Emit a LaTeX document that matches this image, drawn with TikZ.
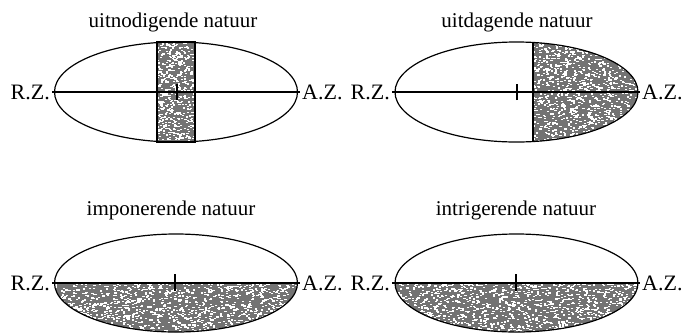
\documentclass[tikz,border=0pt]{standalone}
\usepackage{fontspec}
\setmainfont{Liberation Serif}
\newcommand{\mySpeckle}[5]{% x0 y0 w h n
  \foreach \i in {1,...,#5}{%
    \pgfmathsetmacro{\px}{#1+rnd*#3}%
    \pgfmathsetmacro{\py}{#2+rnd*#4}%
    \fill[white] (\px,\py) rectangle ++(2.2,1.3);
  }}
\begin{document}
\begin{tikzpicture}[x=1pt,y=-1pt,
  outline/.style={line width=1.2pt},
  shade/.style={fill=black!55},
  lbl/.style={font=\fontsize{22}{24}\selectfont, inner sep=2pt},
  ttl/.style={font=\fontsize{21}{23}\selectfont, inner sep=0pt},
  tick/.style={line width=1.2pt}]
\pgfmathsetseed{7}
\useasboundingbox (0,0) rectangle (685,333);

% ---------- top left: uitnodigende natuur ----------
\node[ttl] (t1) at (173,22) {uitnodigende natuur};
\begin{scope}
  \clip (157,42) rectangle (195,142);
  \fill[shade] (157,42) rectangle (195,142);
  \mySpeckle{155}{40}{40}{102}{520}
\end{scope}
\draw[outline] (157,42) rectangle (195,142);
\draw[outline] (176,92) ellipse [x radius=121.5, y radius=50];
\node[lbl, anchor=east] (rz1) at (52,92) {R.Z.};
\node[lbl, anchor=west] (az1) at (300,92) {A.Z.};
\draw[outline] (rz1.east) -- (az1.west);
\coordinate (c1) at (177,92);
\draw[tick] ([yshift=-8pt]c1) -- ([yshift=8pt]c1);

% ---------- top right: uitdagende natuur ----------
\node[ttl] (t2) at (517,22) {uitdagende natuur};
\begin{scope}
  \clip (516.5,92) ellipse [x radius=121.5, y radius=50];
  \clip (533,30) rectangle (650,150);
  \fill[shade] (533,30) rectangle (650,150);
  \mySpeckle{531}{40}{108}{104}{1200}
\end{scope}
\draw[outline] (516.5,92) ellipse [x radius=121.5, y radius=50];
\draw[outline] (533,42.5) -- (533,141.5);
\node[lbl, anchor=east] (rz2) at (392,92) {R.Z.};
\node[lbl, anchor=west] (az2) at (640,92) {A.Z.};
\draw[outline] (rz2.east) -- (az2.west);
\coordinate (c2) at (517,92);
\draw[tick] ([yshift=-8pt]c2) -- ([yshift=8pt]c2);

% ---------- bottom left: imponerende natuur ----------
\node[ttl] (t3) at (171,210) {imponerende natuur};
\begin{scope}
  \clip (176,283) ellipse [x radius=121.5, y radius=49];
  \clip (50,283) rectangle (300,340);
  \fill[shade] (50,283) rectangle (300,340);
  \mySpeckle{53}{282}{246}{52}{1300}
\end{scope}
\draw[outline] (176,283) ellipse [x radius=121.5, y radius=49];
\node[lbl, anchor=east] (rz3) at (52,283) {R.Z.};
\node[lbl, anchor=west] (az3) at (300,283) {A.Z.};
\draw[outline] (rz3.east) -- (az3.west);
\coordinate (c3) at (175,283);
\draw[tick] ([yshift=-8pt]c3) -- ([yshift=9pt]c3);

% ---------- bottom right: intrigerende natuur ----------
\node[ttl] (t4) at (516,210) {intrigerende natuur};
\begin{scope}
  \clip (516.5,283) ellipse [x radius=121.5, y radius=49];
  \clip (390,283) rectangle (640,340);
  \fill[shade] (390,283) rectangle (640,340);
  \mySpeckle{393}{282}{246}{52}{1300}
\end{scope}
\draw[outline] (516.5,283) ellipse [x radius=121.5, y radius=49];
\node[lbl, anchor=east] (rz4) at (392,283) {R.Z.};
\node[lbl, anchor=west] (az4) at (640,283) {A.Z.};
\draw[outline] (rz4.east) -- (az4.west);
\coordinate (c4) at (516,283);
\draw[tick] ([yshift=-8pt]c4) -- ([yshift=9pt]c4);
\end{tikzpicture}
\end{document}
